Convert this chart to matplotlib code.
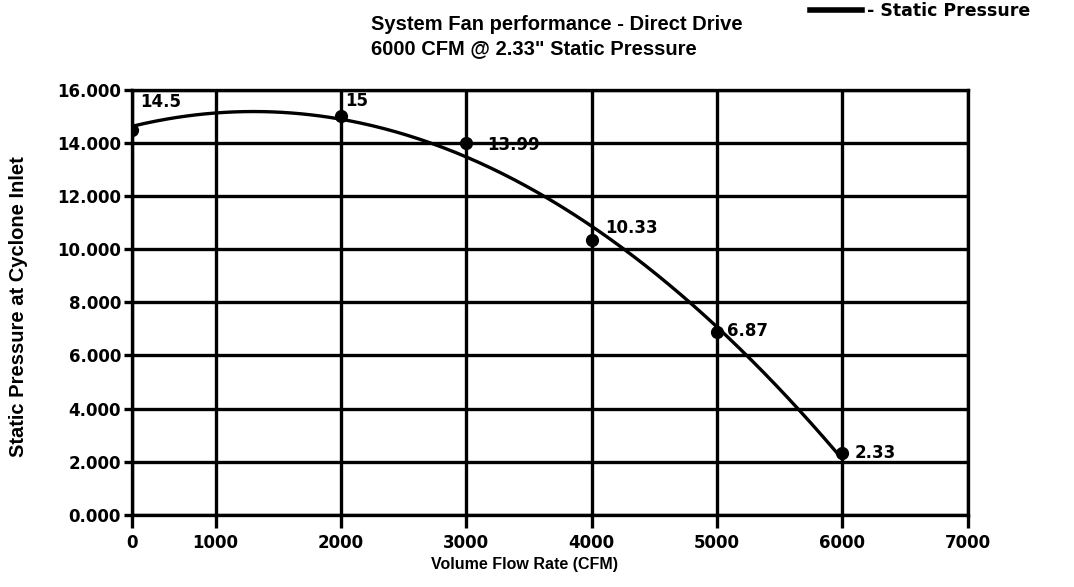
import numpy as np
import matplotlib
matplotlib.use('Agg')
import matplotlib.pyplot as plt

# Data
flow = [0, 2000, 3000, 4000, 5000, 6000]
pressure = [14.5, 15, 13.99, 10.33, 6.87, 2.33]
point_labels = ['14.5', '15', '13.99', '10.33', '6.87', '2.33']
x_ticks = [0, 1000, 2000, 3000, 4000, 5000, 6000, 7000]
y_ticks = [0, 2, 4, 6, 8, 10, 12, 14, 16]

# label offsets in points (dx, dy)
label_offsets = [(6, 20), (3, 11), (15, -1.5), (10, 9), (7, 1), (8.5, 0)]

# the source axis squeezes the first 1000 CFM interval
K = 2 / 3


def fwd(x):
    x = np.asarray(x, dtype=float)
    return np.where(x < 1000, x * K, x - 1000 + 1000 * K)


def inv(u):
    u = np.asarray(u, dtype=float)
    return np.where(u < 1000 * K, u / K, u + 1000 - 1000 * K)


# trendline: 2nd order polynomial fitted in the axis' own coordinates
u = fwd(flow)
coef = np.polyfit(u, pressure, 2)
uu = np.linspace(u.min(), u.max(), 300)
curve_x = inv(uu)
curve_y = np.polyval(coef, uu)

plt.rcParams['font.family'] = ['Liberation Sans', 'DejaVu Sans']

fig = plt.figure(figsize=(10.74, 5.87), dpi=100)
ax = fig.add_axes([0.123, 0.123, 0.778, 0.724])
ax.set_xscale('function', functions=(fwd, inv))

ax.plot(curve_x, curve_y, color='black', lw=2.4, label='- Static Pressure', zorder=3)
ax.plot(flow, pressure, 'o', color='black', ms=8.5, zorder=4)

for xv, yv, lab, off in zip(flow, pressure, point_labels, label_offsets):
    ax.annotate(lab, (xv, yv), xytext=off, textcoords='offset points',
                fontsize=12, fontweight='bold', family='DejaVu Sans',
                ha='left', va='center')

ax.set_xlim(0, 7000)
ax.set_ylim(0, 16)
ax.set_xticks(x_ticks)
ax.set_yticks(y_ticks)
ax.set_yticklabels(['%.3f' % v for v in y_ticks])
ax.grid(True, color='black', lw=2.4)
ax.set_axisbelow(True)
for s in ax.spines.values():
    s.set_linewidth(2.4)
ax.tick_params(axis='x', length=9, width=2.4, pad=5)
ax.tick_params(axis='y', length=6, width=2.4, pad=2)
for lbl in ax.get_xticklabels() + ax.get_yticklabels():
    lbl.set_fontweight('bold')
    lbl.set_family('DejaVu Sans')
    lbl.set_fontsize(12)

ax.set_xlabel('Volume Flow Rate (CFM)', fontsize=11.5, fontweight='bold')
ax.xaxis.set_label_coords(0.47, -0.1)
ax.set_ylabel('Static Pressure at Cyclone Inlet', fontsize=14.5, fontweight='bold')
ax.yaxis.set_label_coords(-0.124, 0.49)

fig.text(0.345, 0.975, 'System Fan performance - Direct Drive\n6000 CFM @ 2.33" Static Pressure',
         ha='left', va='top', fontsize=14.5, fontweight='bold', linespacing=1.35)

leg = fig.legend(loc='upper left', bbox_to_anchor=(0.754, 0.997), frameon=False,
                 borderpad=0, borderaxespad=0, handlelength=3.0, handletextpad=0.3,
                 prop={'size': 12.5, 'weight': 'bold', 'family': 'DejaVu Sans'})
leg.get_lines()[0].set_linewidth(4)

fig.savefig('out.png', dpi=100)
